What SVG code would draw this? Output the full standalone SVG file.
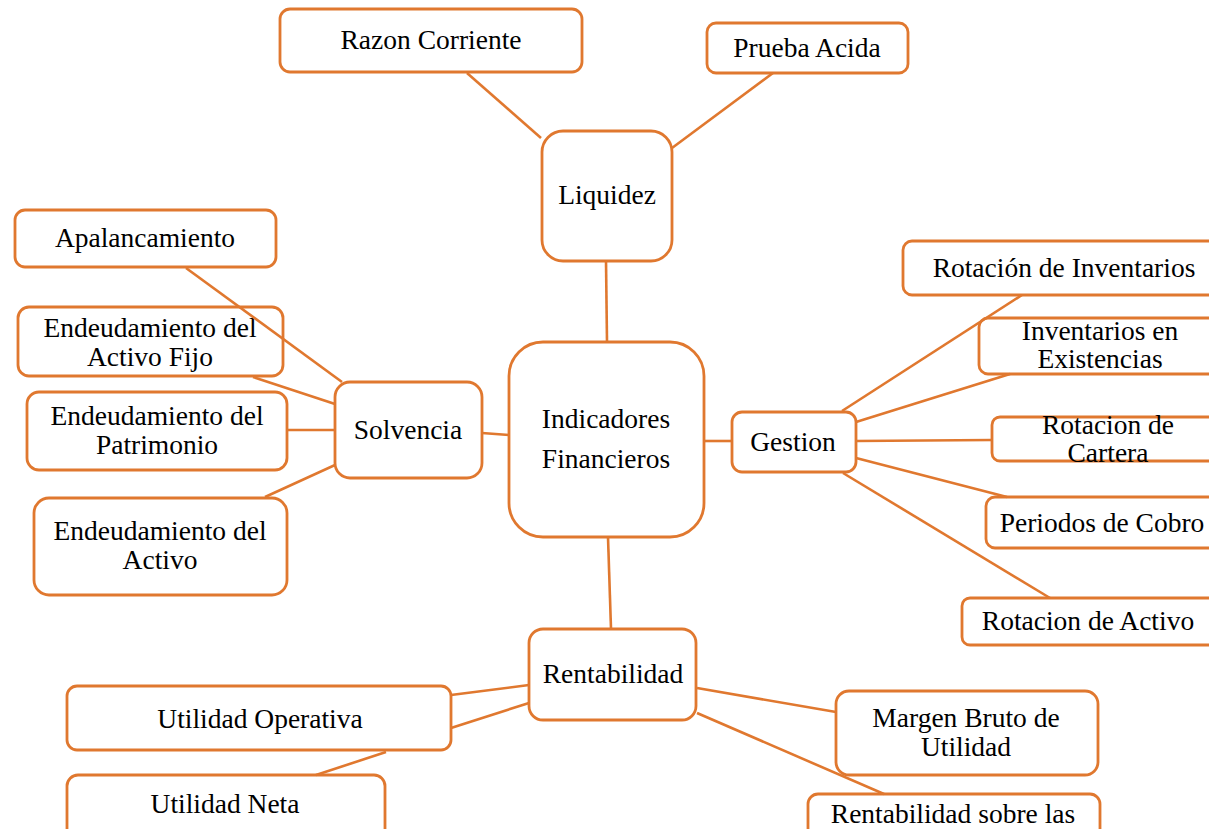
<svg xmlns="http://www.w3.org/2000/svg" width="1209" height="829" viewBox="0 0 1209 829">
  <style>
    .box { fill: #ffffff; stroke: #E0782F; stroke-width: 2.8; }
    .link { stroke: #E0782F; stroke-width: 2.6; fill: none; }
    text { font-family: "Liberation Serif", "Times New Roman", serif; font-size: 27.5px; fill: #000000; text-anchor: middle; }
  </style>
  <rect width="1209" height="829" fill="#ffffff"/>

  <!-- centre -->
  <g id="indicadores">
    <rect class="box" x="509" y="342" width="195" height="195" rx="34"/>
    <text x="606" y="428">Indicadores</text>
    <text x="606" y="468">Financieros</text>
  </g>

  <!-- Liquidez branch -->
  <g id="liquidez">
    <rect class="box" x="542" y="131" width="130" height="130" rx="21"/>
    <text x="607" y="204">Liquidez</text>
  </g>
  <g id="razon-corriente">
    <rect class="box" x="280" y="9" width="302" height="63" rx="10"/>
    <text x="431" y="49">Razon Corriente</text>
  </g>
  <g id="prueba-acida">
    <rect class="box" x="707" y="23" width="201" height="50" rx="9"/>
    <text x="807" y="57">Prueba Acida</text>
  </g>

  <!-- Solvencia branch -->
  <g id="solvencia">
    <rect class="box" x="335" y="382" width="147" height="96" rx="15"/>
    <text x="408" y="439">Solvencia</text>
  </g>
  <g id="apalancamiento">
    <rect class="box" x="15" y="210" width="261" height="57" rx="10"/>
    <text x="145" y="247">Apalancamiento</text>
  </g>
  <g id="endeudamiento-activo-fijo">
    <rect class="box" x="18" y="307" width="265" height="69" rx="11"/>
    <text x="150" y="337">Endeudamiento del</text>
    <text x="150" y="366">Activo Fijo</text>
  </g>
  <g id="endeudamiento-patrimonio">
    <rect class="box" x="27" y="392" width="260" height="78" rx="12"/>
    <text x="157" y="425">Endeudamiento del</text>
    <text x="157" y="454">Patrimonio</text>
  </g>
  <g id="endeudamiento-activo">
    <rect class="box" x="34" y="498" width="253" height="97" rx="15"/>
    <text x="160" y="540">Endeudamiento del</text>
    <text x="160" y="569">Activo</text>
  </g>

  <!-- Gestion branch -->
  <g id="gestion">
    <rect class="box" x="732" y="412" width="124" height="60" rx="10"/>
    <text x="793" y="451">Gestion</text>
  </g>
  <g id="rotacion-inventarios">
    <rect class="box" x="903" y="241" width="320" height="54" rx="9"/>
    <text x="1064" y="277">Rotación de Inventarios</text>
  </g>
  <g id="inventarios-existencias">
    <rect class="box" x="979" y="318" width="244" height="56" rx="9"/>
    <text x="1100" y="340">Inventarios en</text>
    <text x="1100" y="368">Existencias</text>
  </g>
  <g id="rotacion-cartera">
    <rect class="box" x="992" y="417" width="231" height="44" rx="8"/>
    <text x="1108" y="434">Rotacion de</text>
    <text x="1108" y="462">Cartera</text>
  </g>
  <g id="periodos-cobro">
    <rect class="box" x="986" y="497" width="237" height="51" rx="9"/>
    <text x="1102" y="532">Periodos de Cobro</text>
  </g>
  <g id="rotacion-activo">
    <rect class="box" x="962" y="598" width="261" height="47" rx="8"/>
    <text x="1088" y="630">Rotacion de Activo</text>
  </g>

  <!-- Rentabilidad branch -->
  <g id="rentabilidad">
    <rect class="box" x="529" y="629" width="167" height="91" rx="14"/>
    <text x="613" y="683">Rentabilidad</text>
  </g>
  <g id="utilidad-operativa">
    <rect class="box" x="67" y="686" width="384" height="64" rx="10"/>
    <text x="260" y="728">Utilidad Operativa</text>
  </g>
  <g id="utilidad-neta">
    <rect class="box" x="67" y="775" width="318" height="70" rx="11"/>
    <text x="225" y="813">Utilidad Neta</text>
  </g>
  <g id="margen-bruto">
    <rect class="box" x="836" y="691" width="262" height="84" rx="13"/>
    <text x="966" y="727">Margen Bruto de</text>
    <text x="966" y="756">Utilidad</text>
  </g>
  <g id="rentabilidad-sobre">
    <rect class="box" x="808" y="794" width="292" height="60" rx="10"/>
    <text x="953" y="823">Rentabilidad sobre las</text>
  </g>

  <!-- connectors, drawn above the boxes they cross -->
  <g id="connectors">
    <line class="link" x1="467" y1="73" x2="541" y2="138"/>
    <line class="link" x1="773" y1="73" x2="672" y2="148"/>
    <line class="link" x1="606" y1="261" x2="607" y2="342"/>
    <line class="link" x1="186" y1="268" x2="342" y2="382"/>
    <line class="link" x1="253" y1="377" x2="335" y2="404"/>
    <line class="link" x1="287" y1="430" x2="335" y2="430"/>
    <line class="link" x1="265" y1="497" x2="335" y2="465"/>
    <line class="link" x1="482" y1="433" x2="509" y2="435"/>
    <line class="link" x1="704" y1="441" x2="732" y2="441"/>
    <line class="link" x1="842" y1="411" x2="1022" y2="295"/>
    <line class="link" x1="856" y1="422" x2="1010" y2="374"/>
    <line class="link" x1="856" y1="441" x2="992" y2="440"/>
    <line class="link" x1="856" y1="458" x2="1007" y2="497"/>
    <line class="link" x1="843" y1="473" x2="1050" y2="598"/>
    <line class="link" x1="608" y1="537" x2="611" y2="629"/>
    <line class="link" x1="451" y1="695" x2="529" y2="685"/>
    <line class="link" x1="451" y1="728" x2="529" y2="703"/>
    <line class="link" x1="386" y1="752" x2="316" y2="775"/>
    <line class="link" x1="697" y1="688" x2="836" y2="712"/>
    <line class="link" x1="697" y1="713" x2="884" y2="794"/>
  </g>
</svg>
